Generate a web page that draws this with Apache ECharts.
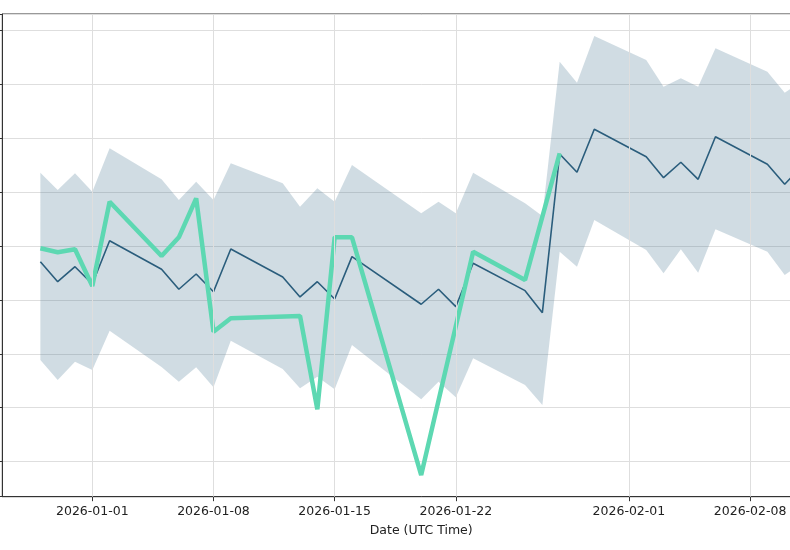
<!DOCTYPE html>
<html>
<head>
<meta charset="utf-8">
<script src="https://cdn.jsdelivr.net/npm/echarts@6/dist/echarts.min.js"></script>
<style>html,body{margin:0;padding:0;background:#fff;overflow:hidden;width:790px;height:550px}#c{width:860px;height:550px}</style>
</head>
<body>
<div id="c"></div>
<script>
const dates = ['2025-12-29','2025-12-30','2025-12-31','2026-01-01','2026-01-02',
  '2026-01-05','2026-01-06','2026-01-07','2026-01-08','2026-01-09',
  '2026-01-12','2026-01-13','2026-01-14','2026-01-15','2026-01-16',
  '2026-01-20','2026-01-21','2026-01-22','2026-01-23',
  '2026-01-26','2026-01-27','2026-01-28','2026-01-29','2026-01-30',
  '2026-02-02','2026-02-03','2026-02-04','2026-02-05','2026-02-06',
  '2026-02-09','2026-02-10','2026-02-11'];
const predicted = [3.707,3.336,3.614,3.294,4.096,
  3.566,3.196,3.479,3.151,3.943,
  3.424,3.053,3.336,3.016,3.800,
  2.918,3.196,2.873,3.677,
  3.170,2.762,5.703,5.364,6.161,
  5.653,5.264,5.550,5.234,6.024,
  5.512,5.142,5.481];
const upperBound = [5.357,5.036,5.346,5.005,5.809,
  5.234,4.851,5.190,4.851,5.531,
  5.160,4.727,5.068,4.819,5.499,
  4.604,4.819,4.604,5.357,
  4.790,4.554,7.414,7.025,7.891,
  7.446,6.951,7.107,6.951,7.663,
  7.229,6.840,7.057];
const lowerBound = [1.885,1.514,1.854,1.700,2.428,
  1.755,1.483,1.750,1.379,2.243,
  1.718,1.361,1.576,1.342,2.163,
  1.157,1.483,1.194,1.917,
  1.422,1.051,3.892,3.614,4.480,
  3.924,3.492,3.937,3.503,4.308,
  3.892,3.461,3.683];
const actual = [3.955,3.881,3.937,3.257,4.819,
  3.813,4.159,4.882,2.410,2.658,
  null,2.701,0.971,4.159,4.159,
  -0.247,null,null,3.892,
  3.368,null,5.716,null,null,
  null,null,null,null,null,
  null,null,null];
const xTickLabels = ['2026-01-01','2026-01-08','2026-01-15','2026-01-22','2026-02-01','2026-02-08'];

const ts = s => Date.parse(s + 'T00:00:00Z');
const t0 = ts(dates[0]), t1 = ts(dates[dates.length-1]);
const pad = (t1 - t0) * 0.05;
const xMin = t0 - pad, xMax = t1 + pad;
const xTicks = xTickLabels.map(ts);

const pairs = arr => dates.map((d,i) => [ts(d), arr[i]]);
const bandData = dates.map((d,i) => [ts(d), lowerBound[i], upperBound[i]]);

const font = 'DejaVu Sans, sans-serif';
const chart = echarts.init(document.getElementById('c'), null, {renderer:'canvas', width: 860, height: 550});
chart.setOption({
  animation: false,
  backgroundColor: '#ffffff',
  grid: {left: 2.3, top: 14, bottom: 53.3, right: 19.9, show: true,
         borderColor: '#333', borderWidth: 1, backgroundColor: 'transparent'},
  xAxis: {
    type: 'value', min: xMin, max: xMax,
    name: 'Date (UTC Time)', nameLocation: 'middle', nameGap: 28,
    nameTextStyle: {fontFamily: font, fontSize: 12.5, color: '#222'},
    axisLine: {show: true, onZero: false, lineStyle: {color: '#333', width: 1}},
    axisTick: {show: true, length: 4.5, customValues: xTicks, lineStyle: {color: '#333'}},
    axisLabel: {show: true, customValues: xTicks, margin: 8.5, fontFamily: font, fontSize: 12.5, color: '#222',
      formatter: v => new Date(v).toISOString().slice(0,10)},
    splitLine: {show: false}
  },
  yAxis: {
    type: 'value', min: -0.649, max: 8.298, splitNumber: 9,
    axisLine: {show: true, lineStyle: {color: '#333', width: 1}},
    axisTick: {show: true, length: 4, lineStyle: {color: '#333'}},
    axisLabel: {show: false},
    splitLine: {show: true, lineStyle: {color: '#dedede', width: 1}}
  },
  series: [
    {type: 'line', data: [], z: 1, silent: true,
     markLine: {silent: true, symbol: ['none','none'], label: {show: false},
       lineStyle: {color: '#dedede', width: 1, type: 'solid'},
       emphasis: {disabled: true},
       data: xTicks.map(t => ({xAxis: t}))}},
    {name: 'band', type: 'custom', data: bandData, z: 2, silent: true,
     encode: {x: 0, y: [1, 2]},
     renderItem: function (params, api) {
       if (params.dataIndex !== 0) return null;
       const top = [], bot = [];
       for (let i = 0; i < bandData.length; i++) {
         top.push(api.coord([bandData[i][0], bandData[i][2]]));
         bot.push(api.coord([bandData[i][0], bandData[i][1]]));
       }
       const pts = top.concat(bot.reverse());
       return {type: 'polygon', shape: {points: pts},
               style: {fill: 'rgba(60,110,140,0.24)', stroke: null}};
     }},
    {name: 'Predicted', type: 'line', data: pairs(predicted), symbol: 'none',
     lineStyle: {color: '#2a5d7c', width: 1.6}, z: 3},
    {name: 'Actual', type: 'line', data: pairs(actual), symbol: 'none', connectNulls: true,
     lineStyle: {color: '#5dd8b2', width: 4.5}, z: 4}
  ]
});
</script>
</body>
</html>
